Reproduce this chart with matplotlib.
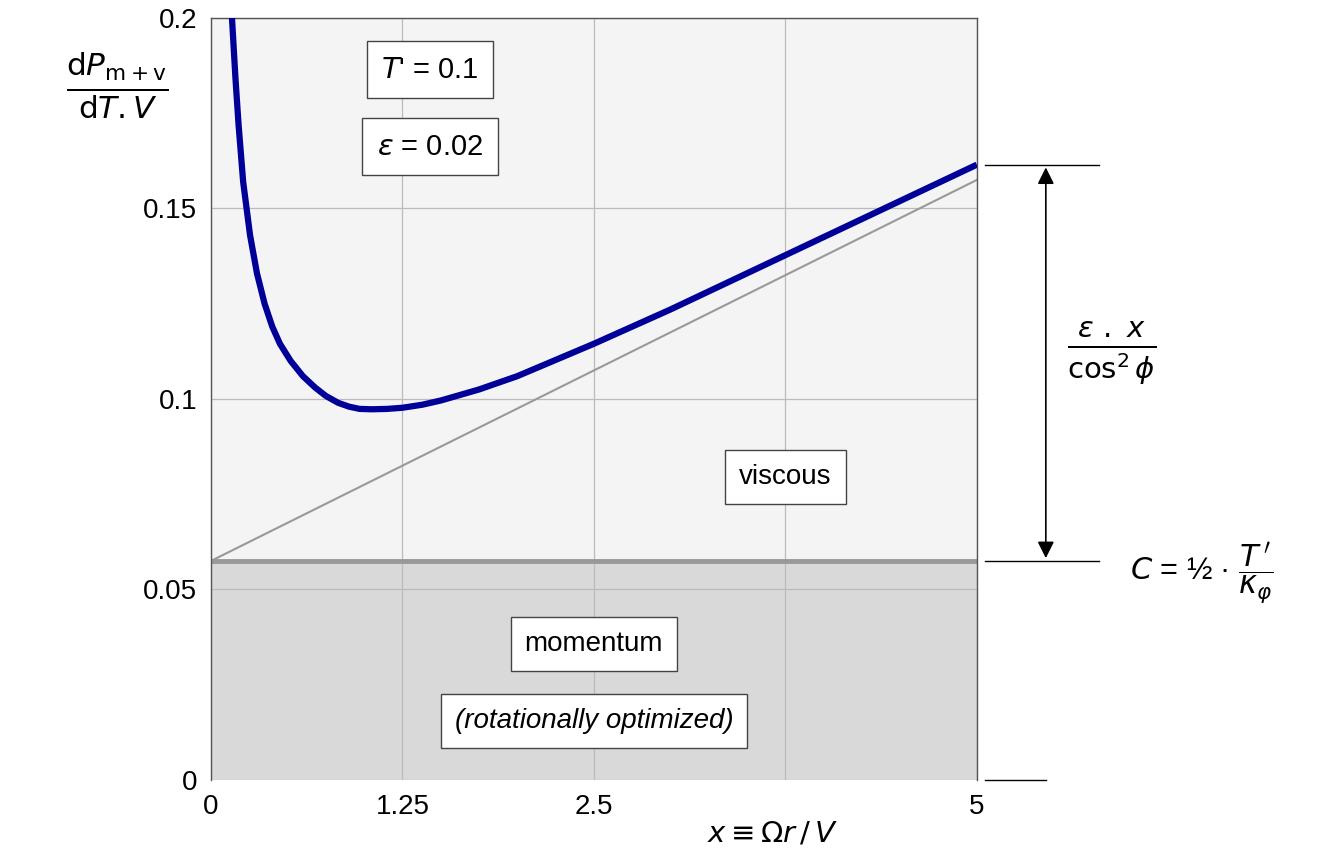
import numpy as np
import matplotlib
matplotlib.use('Agg')
import matplotlib.pyplot as plt

plt.rcParams['font.family'] = ['Liberation Sans', 'DejaVu Sans']
plt.rcParams['mathtext.fontset'] = 'dejavusans'

# values
curveX = [0.137, 0.16, 0.18, 0.21, 0.255, 0.3, 0.35, 0.4, 0.45, 0.52, 0.6, 0.68, 0.75, 0.83, 0.9,
          0.97, 1.05, 1.15, 1.25, 1.38, 1.5, 1.75, 2.0, 2.5, 3.0, 3.5, 4.0, 4.5, 5.0]
curveY = [0.2, 0.184, 0.172, 0.157, 0.143, 0.133, 0.125, 0.119, 0.1145, 0.11, 0.106, 0.103, 0.1008, 0.099,
          0.098, 0.0974, 0.0973, 0.0974, 0.0977, 0.0985, 0.0996, 0.1025, 0.106, 0.1145, 0.1235, 0.133,
          0.1425, 0.152, 0.1615]
C = 0.0575
eps = 0.02
lineX = [0, 5]
lineY = [C, C + eps * 5]
xTicks = [0, 1.25, 2.5, 3.75, 5]
xTickLabels = ['0', '1.25', '2.5', '', '5']
yTicks = [0, 0.05, 0.1, 0.15, 0.2]
yTickLabels = ['0', '0.05', '0.1', '0.15', '0.2']

fig = plt.figure(figsize=(13.32, 8.52), dpi=100)
ax = fig.add_axes([0.1584, 0.0845, 0.575, 0.8944])
ax.set_xlim(0, 5)
ax.set_ylim(0, 0.2)

ax.axhspan(C, 0.2, color='#f4f4f4', zorder=0)
ax.axhspan(0, C, color='#d9d9d9', zorder=0)
ax.set_xticks(xTicks)
ax.set_xticklabels(xTickLabels)
ax.set_yticks(yTicks)
ax.set_yticklabels(yTickLabels)
ax.grid(True, color='#bbbbbb', lw=0.9, zorder=1)
ax.tick_params(length=0, labelsize=20, pad=10)
for s in ax.spines.values():
    s.set_color('#555555')
    s.set_linewidth(1)
ax.spines['bottom'].set_visible(False)

ax.plot(lineX, lineY, color='#999999', lw=1.5, zorder=2)
ax.axhline(C, color='#999999', lw=3.5, zorder=2)
ax.plot(curveX, curveY, color='#000099', lw=4.5, zorder=3, solid_capstyle='butt')

box = dict(boxstyle='square,pad=0.5', fc='white', ec='#444444', lw=1)
ax.text(1.43, 0.1864, "$T$' = 0.1", fontsize=21, ha='center', va='center', bbox=box)
ax.text(1.43, 0.1662, r"$\epsilon$ = 0.02", fontsize=21, ha='center', va='center', bbox=box)
ax.text(3.75, 0.0795, "viscous", fontsize=20, ha='center', va='center', bbox=box)
ax.text(2.5, 0.0357, "momentum", fontsize=20, ha='center', va='center', bbox=box)
ax.text(2.5, 0.0155, "(rotationally optimized)", fontsize=20, style='italic', ha='center', va='center', bbox=box)

# right-hand annotation
yTop = curveY[-1]
for yv, x2 in [(yTop, 5.8), (C, 5.8), (0, 5.45)]:
    ax.plot([5.05, x2], [yv, yv], color='black', lw=1, clip_on=False)
ax.annotate('', xy=(5.45, C), xytext=(5.45, yTop),
            arrowprops=dict(arrowstyle='<|-|>', color='black', lw=1.2, mutation_scale=25), annotation_clip=False)
ax.text(5.88, 0.112, r'$\frac{\epsilon\ .\ x}{\cos^2\phi}$', fontsize=30, ha='center', va='center')
ax.text(6.0, C - 0.003, r"$C$ = ½ · $\dfrac{T\,'}{\kappa_{\varphi}}$", fontsize=22, ha='left', va='center')

fig.text(0.088, 0.9, r'$\frac{\mathrm{d}P_{\mathrm{m+v}}}{\mathrm{d}T.V}$', fontsize=32, ha='center', va='center')
fig.text(0.58, 0.022, r'$x \equiv \Omega r\,/\,V$', fontsize=21, ha='center', va='center')

fig.savefig('out.png', dpi=100)
